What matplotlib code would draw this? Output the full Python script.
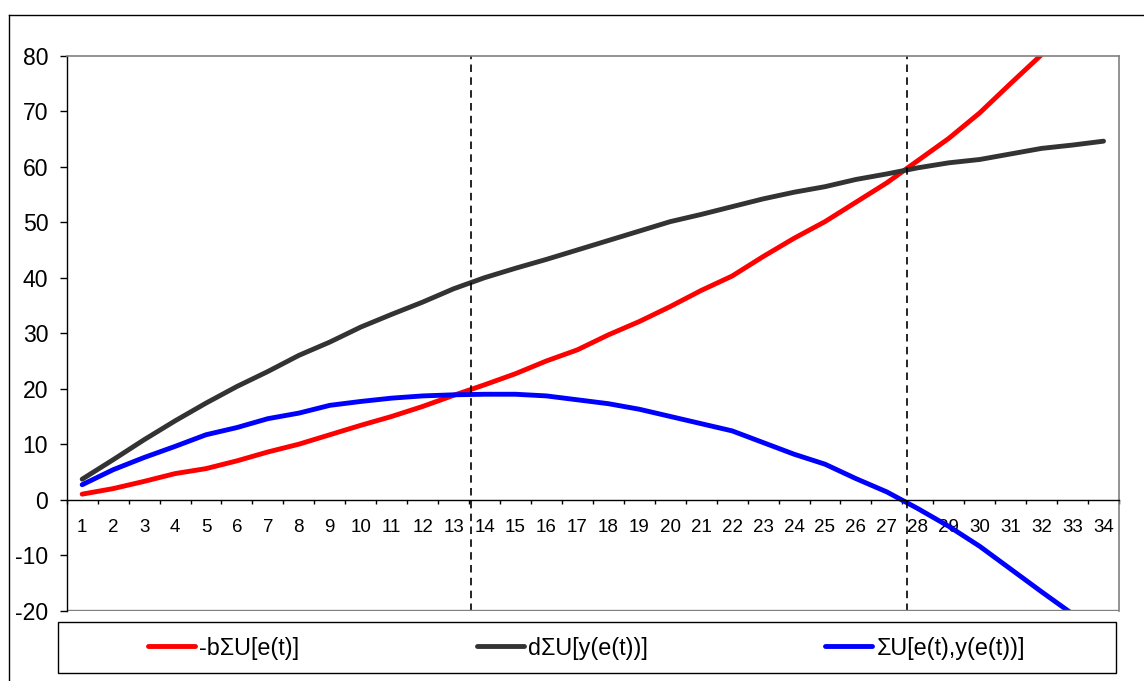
import numpy as np
import matplotlib
matplotlib.use('Agg')
import matplotlib.pyplot as plt
from matplotlib.lines import Line2D
from matplotlib.patches import Rectangle

plt.rcParams['font.family'] = ['Liberation Sans', 'DejaVu Sans']
plt.rcParams['axes.unicode_minus'] = False

periods = list(range(1, 35))

# -b*sum U[e(t)]
b_sum = [1.0, 2.0, 3.3, 4.7, 5.6, 7.0, 8.6, 10.0, 11.7, 13.4, 15.0, 16.8, 18.8, 20.7,
         22.7, 25.0, 27.0, 29.7, 32.1, 34.8, 37.7, 40.3, 43.8, 47.1, 50.1, 53.6, 57.1,
         61.1, 65.1, 69.7, 75.0, 80.2, 85.5, 91.0]
# d*sum U[y(e(t))]
d_sum = [3.7, 7.2, 10.8, 14.2, 17.4, 20.4, 23.1, 26.0, 28.4, 31.1, 33.4, 35.6, 38.0, 40.0,
         41.7, 43.3, 45.0, 46.7, 48.4, 50.1, 51.4, 52.8, 54.2, 55.4, 56.4, 57.7, 58.7,
         59.8, 60.7, 61.3, 62.3, 63.3, 63.9, 64.6]
# sum U[e(t), y(e(t))]
u_sum = [2.7, 5.4, 7.6, 9.6, 11.7, 13.0, 14.6, 15.6, 17.0, 17.7, 18.3, 18.7, 18.9, 19.0,
         19.0, 18.7, 18.0, 17.3, 16.3, 15.0, 13.7, 12.4, 10.3, 8.2, 6.4, 3.8, 1.4,
         -1.6, -4.8, -8.4, -12.5, -16.6, -20.6, -25.0]

labels = ['-bΣU[e(t)]', 'dΣU[y(e(t))]', 'ΣU[e(t),y(e(t))]']
colors = ['#FF0000', '#333333', '#0000FF']
markers_x = [13.56, 27.65]   # dashed vertical lines

W, H = 1144, 681
fig = plt.figure(figsize=(W / 100, H / 100), dpi=100)

# plot area in pixels
left, right, top, bottom = 66.7, 1119, 55.7, 610.7
ax = fig.add_axes([left / W, 1 - bottom / H, (right - left) / W, (bottom - top) / H])

for ys, lab, c in zip([b_sum, d_sum, u_sum], labels, colors):
    ax.plot(periods, ys, color=c, lw=3.5, label=lab, solid_capstyle='round')

for xv in markers_x:
    ax.axvline(xv, color='black', lw=1.2, linestyle=(0, (4.5, 3.2)))

ax.set_xlim(0.5, 34.5)
ax.set_ylim(-20, 80)

# spines
for s in ['top', 'right']:
    ax.spines[s].set_color('#808080')
    ax.spines[s].set_linewidth(1.2)
ax.spines['left'].set_color('black')
ax.spines['left'].set_linewidth(1.0)
ax.spines['bottom'].set_position(('data', 0))
ax.spines['bottom'].set_color('black')
ax.spines['bottom'].set_linewidth(1.0)
ax.axhline(-20, color='#808080', lw=2.4, clip_on=True)

ax.set_yticks(np.arange(-20, 81, 10))
ax.tick_params(axis='y', direction='out', length=5.3, width=1.0, pad=8, labelsize=16.6)
ax.set_xticks(periods)
ax.set_xticklabels([str(p) for p in periods])
ax.set_xticks(np.arange(0.5, 35, 1), minor=True)
ax.tick_params(axis='x', which='major', length=0, pad=14, labelsize=13.5)
ax.tick_params(axis='x', which='minor', direction='out', length=3.2, width=1.0)

# outer chart frame
fig.add_artist(Line2D([9 / W, 1], [1 - 15 / H, 1 - 15 / H], color='black', lw=1.0,
                      transform=fig.transFigure))
fig.add_artist(Line2D([9 / W, 9 / W], [0, 1 - 15 / H], color='black', lw=1.0,
                      transform=fig.transFigure))

# legend box
lx0, lx1, ly0, ly1 = 57.7, 1115.7, 622.3, 673.3
fig.add_artist(Rectangle((lx0 / W, 1 - ly1 / H), (lx1 - lx0) / W, (ly1 - ly0) / H,
                         transform=fig.transFigure, fill=False, edgecolor='black', lw=1.0))
fs = 16.8
fig.legend(loc='center', bbox_to_anchor=((lx0 + lx1) / 2 / W, 1 - 648 / H), ncol=3,
           frameon=False, fontsize=fs, handlelength=2.0, handletextpad=0.2,
           columnspacing=7.6, borderpad=0)

fig.savefig('out.png', dpi=100)
